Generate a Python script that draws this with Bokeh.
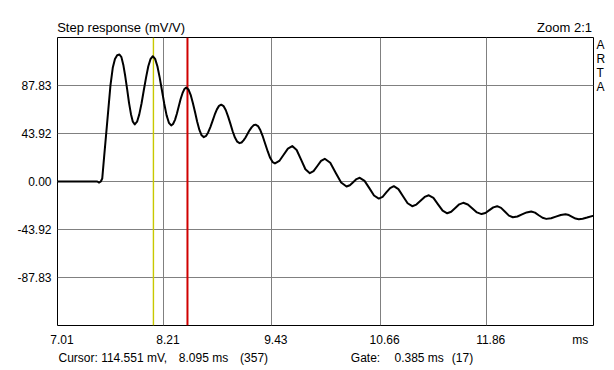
from bokeh.plotting import figure
from bokeh.models import Range1d, FixedTicker, Span, LinearAxis
from bokeh.embed import file_html
from bokeh.resources import INLINE

# ---- data (time in ms, value in mV) ----
t_ms = [7.01, 7.46, 7.48, 7.50, 7.516, 7.54, 7.561, 7.585, 7.609, 7.635, 7.66, 7.685, 7.711,
        7.733, 7.754, 7.776, 7.798, 7.819, 7.841, 7.862, 7.884,
        7.910, 7.935, 7.961, 7.986, 8.012, 8.037, 8.063, 8.088,
        8.114, 8.140, 8.166, 8.192, 8.218, 8.244, 8.270, 8.296,
        8.317, 8.339, 8.360, 8.381, 8.402, 8.424, 8.445, 8.466,
        8.491, 8.516, 8.541, 8.566, 8.590, 8.615, 8.640, 8.665,
        8.690, 8.714, 8.739, 8.764, 8.788, 8.813, 8.837, 8.862,
        8.888, 8.914, 8.940, 8.966, 8.991, 9.017, 9.043, 9.069,
        9.092, 9.114, 9.137, 9.160, 9.182, 9.205, 9.227, 9.250,
        9.278, 9.305, 9.333, 9.360, 9.388, 9.415, 9.443, 9.470,
        9.519, 9.568, 9.616, 9.665,
        9.715, 9.765, 9.814, 9.864,
        9.906, 9.949, 9.991, 10.033,
        10.095, 10.156, 10.218, 10.279,
        10.317, 10.354, 10.392, 10.429,
        10.483, 10.537, 10.590, 10.644,
        10.687, 10.729, 10.772, 10.814,
        10.866, 10.918, 10.970, 11.022,
        11.069, 11.116, 11.163, 11.210,
        11.262, 11.314, 11.366, 11.418,
        11.463, 11.509, 11.554, 11.599,
        11.651, 11.703, 11.754, 11.806,
        11.850, 11.895, 11.939, 11.983,
        12.027, 12.072, 12.116, 12.160,
        12.212, 12.264, 12.316, 12.368,
        12.411, 12.453, 12.496, 12.538,
        12.593, 12.647, 12.702, 12.756,
        12.794, 12.831, 12.869, 12.906,
        12.95, 13.00, 13.076]
v_mv = [0.0, 0.0, -1.0, 0.0, 2.7, 25.0, 44.0, 66.0, 88.0, 104.0, 112.0, 115.5, 116.2,
        113.8, 106.9, 96.5, 84.3, 72.0, 61.6, 54.7, 52.3,
        54.7, 61.4, 71.6, 83.5, 95.3, 105.5, 112.2, 114.6,
        112.2, 105.4, 95.0, 83.0, 70.9, 60.5, 53.7, 51.3,
        52.6, 56.4, 62.0, 68.6, 75.2, 80.8, 84.6, 85.9,
        84.2, 79.3, 71.9, 63.3, 54.6, 47.2, 42.3, 40.6,
        41.7, 44.9, 49.8, 55.5, 61.1, 66.0, 69.2, 70.3,
        69.0, 65.2, 59.4, 52.7, 46.0, 40.2, 36.4, 35.1,
        35.7, 37.6, 40.3, 43.6, 46.8, 49.5, 51.4, 52.0,
        50.7, 46.8, 41.0, 34.3, 27.5, 21.7, 17.8, 16.5,
        18.8, 24.5, 30.1, 32.4,
        28.8, 20.0, 11.2, 7.6,
        9.5, 14.2, 18.9, 20.8,
        17.1, 8.1, -0.9, -4.6,
        -3.4, -0.6, 2.2, 3.4,
        0.6, -6.1, -12.8, -15.6,
        -14.0, -10.0, -6.0, -4.3,
        -7.0, -13.5, -19.9, -22.6,
        -21.1, -17.6, -14.1, -12.6,
        -15.0, -20.9, -26.7, -29.1,
        -27.7, -24.3, -20.9, -19.5,
        -21.0, -24.7, -28.3, -29.8,
        -28.8, -26.2, -23.7, -22.6,
        -24.1, -27.7, -31.2, -32.7,
        -32.0, -30.1, -28.3, -27.5,
        -28.5, -30.9, -33.2, -34.2,
        -33.6, -32.1, -30.6, -30.0,
        -30.7, -32.3, -33.9, -34.6,
        -34.0, -33.0, -31.2]

x_start, x_end = 7.01, 13.0725
y_lim = 131.75
x_tick_values = [7.01, 8.21, 9.43, 10.66, 11.86]
x_tick_labels = ["7.01", "8.21", "9.43", "10.66", "11.86"]
x_unit_label = "ms"
y_tick_values = [-87.83, -43.92, 0.0, 43.92, 87.83]
y_tick_labels = ["-87.83", "-43.92", "0.00", "43.92", "87.83"]

title_text = "Step response (mV/V)"
zoom_text = "Zoom 2:1"
brand_letters = ["A", "R", "T", "A"]

cursor_ms = 8.095
cursor_mv = 114.551
cursor_idx = 357
gate_ms = 0.385
gate_idx = 17
footer_texts = [f"Cursor: {cursor_mv:.3f} mV,", f"{cursor_ms:.3f} ms", f"({cursor_idx})",
                "Gate:", f"{gate_ms:.3f} ms", f"({gate_idx})"]

FONT = "Liberation Sans"

p = figure(width=614, height=370, output_backend="svg", toolbar_location=None,
           x_range=Range1d(x_start, x_end), y_range=Range1d(-y_lim, y_lim),
           min_border_left=57, min_border_right=21, min_border_top=37, min_border_bottom=45)
p.background_fill_color = "white"
p.border_fill_color = "white"
p.outline_line_color = "black"
p.outline_line_width = 1

# grid
p.xgrid.ticker = FixedTicker(ticks=x_tick_values[1:])
p.ygrid.ticker = FixedTicker(ticks=y_tick_values)
for g in (p.xgrid, p.ygrid):
    g.grid_line_color = "#808080"
    g.grid_line_width = 1


def style_axis(ax, size="12px", standoff=6):
    ax.axis_line_color = None
    ax.major_tick_line_color = None
    ax.minor_tick_line_color = None
    ax.major_tick_out = 0
    ax.major_tick_in = 0
    ax.major_label_text_font = FONT
    ax.major_label_text_font_size = size
    ax.major_label_text_color = "black"
    ax.major_label_standoff = standoff


# x axis labels slightly right of the gridlines, unit label at the end
shift = 0.05
label_pos = [v + shift for v in x_tick_values] + [x_end - 0.15]
p.xaxis.ticker = FixedTicker(ticks=label_pos)
p.xaxis.major_label_overrides = dict(zip(label_pos, x_tick_labels + [x_unit_label]))
p.yaxis.ticker = FixedTicker(ticks=y_tick_values)
p.yaxis.major_label_overrides = dict(zip(y_tick_values, y_tick_labels))
style_axis(p.xaxis[0], standoff=7)
style_axis(p.yaxis[0], standoff=6)

# header texts (title at left, zoom at right) as labels of a top axis
head_pos = [7.73, 12.745]
top_ax = LinearAxis(ticker=FixedTicker(ticks=head_pos),
                    major_label_overrides=dict(zip(head_pos, [title_text, zoom_text])))
style_axis(top_ax, size="13px", standoff=3)
p.add_layout(top_ax, "above")

# vertical "ARTA" letters on the right
brand_pos = [124.7, 111.9, 99.0, 86.2]
right_ax = LinearAxis(ticker=FixedTicker(ticks=brand_pos),
                      major_label_overrides=dict(zip(brand_pos, brand_letters)))
style_axis(right_ax, size="12px", standoff=3)
p.add_layout(right_ax, "right")

# footer line (cursor / gate readout) as labels of a second bottom axis
foot_pos = [7.636, 8.661, 9.233, 10.494, 11.101, 11.591]
foot_ax = LinearAxis(ticker=FixedTicker(ticks=foot_pos),
                     major_label_overrides=dict(zip(foot_pos, footer_texts)))
style_axis(foot_ax, size="12px", standoff=1)
p.add_layout(foot_ax, "below")

# cursor / gate markers
p.add_layout(Span(location=cursor_ms, dimension="height", line_color="#c8c800",
                  line_width=1.4, level="underlay"))
p.add_layout(Span(location=cursor_ms + gate_ms, dimension="height", line_color="#d00000",
                  line_width=2, level="underlay"))

p.line(t_ms, v_mv, line_color="black", line_width=2, line_join="round")

open("out.html", "w").write(file_html(p, INLINE))
